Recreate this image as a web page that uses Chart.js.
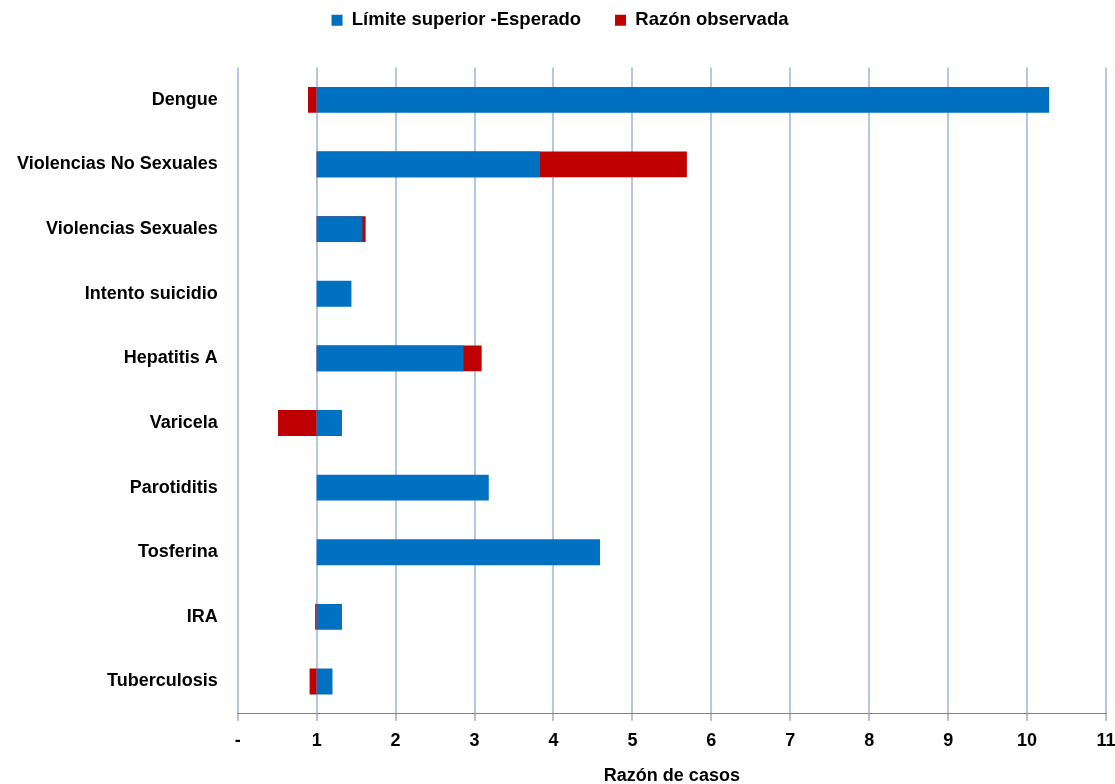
<!DOCTYPE html>
<html>
<head>
<meta charset="utf-8">
<script src="https://cdn.jsdelivr.net/npm/chart.js@4.4.0/dist/chart.umd.min.js"></script>
<style>
  html, body { margin: 0; padding: 0; background: #fff; }
  #wrap { width: 1115px; height: 784px; position: relative; }
</style>
</head>
<body>
<div id="wrap"><canvas id="chart"></canvas></div>
<script>
// Razón observada vs límite superior esperado por evento
const categorias = [
  'Dengue', 'Violencias No Sexuales', 'Violencias Sexuales', 'Intento suicidio',
  'Hepatitis A', 'Varicela', 'Parotiditis', 'Tosferina', 'IRA', 'Tuberculosis'
];
const limiteSuperior = [10.28, 3.83, 1.58, 1.44, 2.86, 1.32, 3.18, 4.59, 1.32, 1.20];
const razonObservada = [0.89, 5.69, 1.62, 1.00, 3.09, 0.51, 1.00, 1.00, 0.98, 0.91];
const base = 1;
const tickLabels = ['-', '1', '2', '3', '4', '5', '6', '7', '8', '9', '10', '11'];

const FONT = "'Liberation Sans Narrow', 'Arial Narrow', 'Liberation Sans', Arial, sans-serif";
const AZUL = '#0070c0';
const ROJO = '#c00000';

// deja más aire entre la leyenda y el área de la gráfica
const legendGap = {
  id: 'legendGap',
  beforeInit(chart) {
    const fit = chart.legend.fit;
    chart.legend.fit = function () {
      fit.bind(chart.legend)();
      this.height += 28;
    };
  }
};

new Chart(document.getElementById('chart'), {
  type: 'bar',
  data: {
    labels: categorias,
    datasets: [
      {
        label: 'Límite superior -Esperado',
        data: limiteSuperior.map(v => [base, v]),
        backgroundColor: AZUL,
        borderWidth: 0,
        borderSkipped: false,
        grouped: false,
        barPercentage: 0.4,
        categoryPercentage: 1
      },
      {
        label: 'Razón observada',
        data: razonObservada.map(v => [base, v]),
        backgroundColor: ROJO,
        borderWidth: 0,
        borderSkipped: false,
        grouped: false,
        barPercentage: 0.4,
        categoryPercentage: 1
      }
    ]
  },
  options: {
    indexAxis: 'y',
    responsive: true,
    maintainAspectRatio: false,
    animation: false,
    layout: { padding: { left: 5, right: 0, top: -23, bottom: -3 } },
    plugins: {
      legend: {
        position: 'top',
        labels: {
          boxWidth: 11, boxHeight: 11, padding: 34,
          color: '#000',
          font: { family: FONT, size: 18.5, weight: 'bold' }
        }
      },
      tooltip: { enabled: false },
      title: { display: false }
    },
    scales: {
      x: {
        min: 0, max: 11,
        afterFit(scale) { scale.paddingRight = 9; },
        ticks: {
          stepSize: 1,
          color: '#000',
          padding: 9,
          font: { family: FONT, size: 18, weight: 'bold' },
          callback: (v) => tickLabels[v]
        },
        grid: {
          color: '#b4c7e7', lineWidth: 2,
          drawTicks: true, tickLength: 7, tickColor: '#808080', tickWidth: 1
        },
        border: { display: true, color: '#808080', width: 1 },
        title: {
          display: true, text: 'Razón de casos', color: '#000',
          padding: { top: 5, bottom: 0 },
          font: { family: FONT, size: 18, weight: 'bold' }
        }
      },
      y: {
        ticks: {
          color: '#000',
          padding: 12,
          font: { family: FONT, size: 18, weight: 'bold' }
        },
        grid: { display: false },
        border: { display: false }
      }
    }
  },
  plugins: [legendGap]
});
</script>
</body>
</html>
